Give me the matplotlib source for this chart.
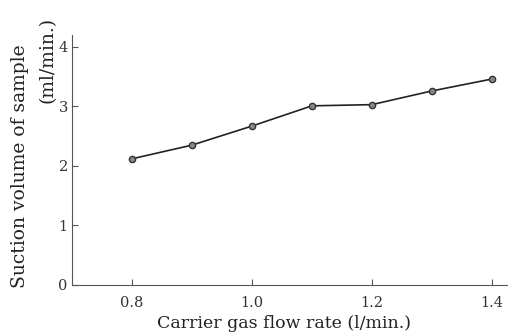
import matplotlib.pyplot as plt

# Suction volume vs carrier gas flow rate
flow_rate = [0.8, 0.9, 1.0, 1.1, 1.2, 1.3, 1.4]
suction_volume = [2.12, 2.35, 2.67, 3.01, 3.03, 3.26, 3.46]

x_ticks = [0.8, 1.0, 1.2, 1.4]
y_ticks = [0, 1, 2, 3, 4]

plt.rcParams['font.family'] = ['DejaVu Serif']

W, H = 508, 334
fig = plt.figure(figsize=(W / 100, H / 100), dpi=100)
ax = fig.add_axes([72 / W, 49 / H, 436 / W, 250 / H])

ax.plot(flow_rate, suction_volume, color='#222222', linewidth=1.2,
        marker='o', markersize=4.5, markerfacecolor='#888888',
        markeredgecolor='#333333', markeredgewidth=1)

ax.set_xlim(0.7, 1.427)
ax.set_ylim(0, 4.2)
ax.set_xticks(x_ticks)
ax.set_xticklabels([f'{v:.1f}' for v in x_ticks])
ax.set_yticks(y_ticks)

for side in ['top', 'right']:
    ax.spines[side].set_visible(False)
for side in ['left', 'bottom']:
    ax.spines[side].set_color('#555555')
    ax.spines[side].set_linewidth(0.8)

ax.tick_params(direction='in', length=4, width=0.8, color='#555555',
               labelsize=10.5, labelcolor='#333333')
ax.tick_params(axis='x', pad=8)
ax.tick_params(axis='y', pad=3)

ax.set_xlabel('Carrier gas flow rate (l/min.)', fontsize=12.5,
              color='#222222')
ax.xaxis.set_label_coords(284 / W, 1 - 324 / H, transform=fig.transFigure)
ax.xaxis.label.set_va('center')

# two-line y label, second line shifted toward the top
fig.text(20 / W, 1 - 166 / H, 'Suction volume of sample', rotation=90,
         ha='center', va='center', fontsize=13.5, color='#222222')
fig.text(48 / W, 1 - 60 / H, '(ml/min.)', rotation=90,
         ha='center', va='center', fontsize=13.5, color='#222222')

fig.savefig('out.png', dpi=100)
